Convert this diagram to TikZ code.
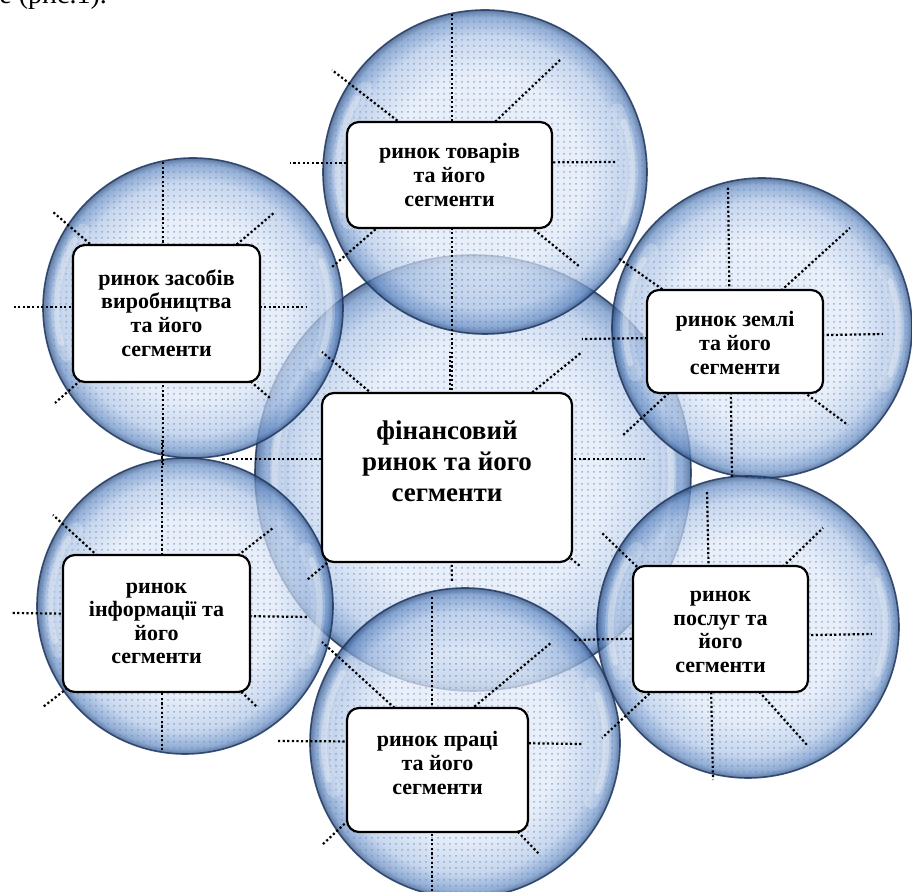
\documentclass[tikz,border=0pt]{standalone}
\usepackage{fontspec}
\setmainfont{Liberation Serif}
\usetikzlibrary{patterns}
\definecolor{bA}{HTML}{E0E9F6}
\definecolor{bB}{HTML}{B6CAE8}
\definecolor{bC}{HTML}{6A90C6}
\definecolor{bD}{HTML}{2A4A7C}
\definecolor{bDot}{HTML}{5F88C8}
\definecolor{rimC}{HTML}{1E3863}
\pgfdeclareradialshading{bubble}{\pgfpoint{0bp}{0bp}}{color(0bp)=(bA); color(15bp)=(bA); color(21bp)=(bB); color(24bp)=(bC); color(25bp)=(bD); color(50bp)=(bD)}
\tikzset{
  bub/.style={shading=bubble, fill opacity=0.74},
  bubdots/.style={pattern=dots, pattern color=bDot, fill opacity=0.6},
  bubrim/.style={draw=rimC, line width=0.8pt, draw opacity=0.85},
  glintwide/.style={draw=white, line width=7pt, draw opacity=0.22, line cap=round},
  glint/.style={draw=white, line width=3pt, draw opacity=0.3, line cap=round},
  spoke/.style={line width=1.1pt, dash pattern=on 1.1pt off 1.2pt},
  mbox/.style={draw=black, line width=1.1pt, fill=white, rounded corners=6pt, inner sep=0pt},
  mtxt/.style={font=\bfseries\fontsize{11}{11.8}\selectfont, align=center, inner sep=0pt},
  btxt/.style={font=\bfseries\fontsize{13.5}{15.5}\selectfont, align=center, inner sep=0pt}
}
\begin{document}
\begin{tikzpicture}[x=0.5pt,y=-0.5pt]
\useasboundingbox (0,0) rectangle (912,892);
\node[anchor=base west, inner sep=0pt, font=\fontsize{14}{16}\selectfont] (cap) at (-1,4) {е (рис.1).};
% circles
\foreach \cx/\cy/\r in {473/473/218, 485/172/162, 193/308/150, 185/606/148, 762/328/150, 748/627/151, 465/743/155}{
  \shade[bub] (\cx,\cy) circle [radius=\r];
  \fill[bubdots] (\cx,\cy) circle [radius=\r];
  \draw[glintwide] (\cx,\cy) ++(160:0.9*\r) arc [start angle=160, end angle=215, radius=0.9*\r];
  \draw[glint] (\cx,\cy) ++(165:0.91*\r) arc [start angle=165, end angle=210, radius=0.91*\r];
  \draw[glintwide] (\cx,\cy) ++(-25:0.9*\r) arc [start angle=-25, end angle=25, radius=0.9*\r];
  \draw[glint] (\cx,\cy) ++(-20:0.91*\r) arc [start angle=-20, end angle=20, radius=0.91*\r];
  \draw[bubrim] (\cx,\cy) circle [radius=\r];
}
% spoke centres
\coordinate (s0) at (450,459);
\coordinate (s1) at (452,163);
\coordinate (s2) at (163,307);
\coordinate (s3) at (730,337);
\coordinate (s4) at (710,637);
\coordinate (s5) at (432,742);
\coordinate (s6) at (162,615);
% spoke ends
\foreach \n/\px/\py in {
  0n/450/352, 0ne/582/352, 0e/645/459, 0se/580/566, 0s/452/583, 0sw/307/580, 0w/220/459, 0nw/322/352,
  1n/452/13, 1ne/560/60, 1e/617/162, 1se/580/267, 1s/452/390, 1sw/332/267, 1w/290/163, 1nw/332/70,
  2n/163/160, 2ne/275/212, 2e/307/307, 2se/270/398, 2s/163/465, 2sw/55/403, 2w/12/307, 2nw/53/212,
  3n/728/186, 3ne/850/228, 3e/883/334, 3se/848/425, 3s/732/477, 3sw/622/436, 3w/582/339, 3nw/618/258,
  4n/707/490, 4ne/823/528, 4e/872/634, 4se/807/745, 4s/713/780, 4sw/602/738, 4w/572/640, 4nw/602/533,
  5n/432/597, 5ne/552/642, 5e/582/744, 5se/540/855, 5s/432/892, 5sw/322/845, 5w/277/741, 5nw/322/642,
  6n/162/440, 6ne/273/528, 6e/308/617, 6se/257/707, 6s/162/750, 6sw/43/707, 6w/12/613, 6nw/53/515}
  {\coordinate (e\n) at (\px,\py);}
\foreach \i in {0,...,6}{
  \foreach \d in {n,ne,e,se,s,sw,w,nw}{
    \draw[spoke] (s\i) -- (e\i\d);
  }
}
% boxes
\node[mbox, minimum width=125pt, minimum height=84.5pt] (b0) at (447,477.5) {};
\node[mbox, minimum width=102.5pt, minimum height=53pt] (b1) at (449.5,175) {};
\node[mbox, minimum width=93.5pt, minimum height=68.5pt] (b2) at (166.5,313.5) {};
\node[mbox, minimum width=88pt, minimum height=51.5pt] (b3) at (735,341.5) {};
\node[mbox, minimum width=87.5pt, minimum height=63pt] (b4) at (720.5,629) {};
\node[mbox, minimum width=90.5pt, minimum height=62pt] (b5) at (437.5,770) {};
\node[mbox, minimum width=93.5pt, minimum height=68.5pt] (b6) at (156.5,623.5) {};
% texts
\node[btxt] (t0) at (447,461) {фінансовий\\ринок та його\\сегменти};
\node[mtxt] (t1) at (449.5,175) {ринок товарів\\та його\\сегменти};
\node[mtxt] (t2) at (166.5,313) {ринок засобів\\виробництва\\та його\\сегменти};
\node[mtxt] (t3) at (735,343) {ринок землі\\та його\\сегменти};
\node[mtxt] (t4) at (720.5,632) {ринок\\послуг та\\його\\сегменти};
\node[mtxt] (t5) at (437.5,763) {ринок праці\\та його\\сегменти};
\node[mtxt] (t6) at (156.5,623.5) {ринок\\інформації та\\його\\сегменти};
\end{tikzpicture}
\end{document}
